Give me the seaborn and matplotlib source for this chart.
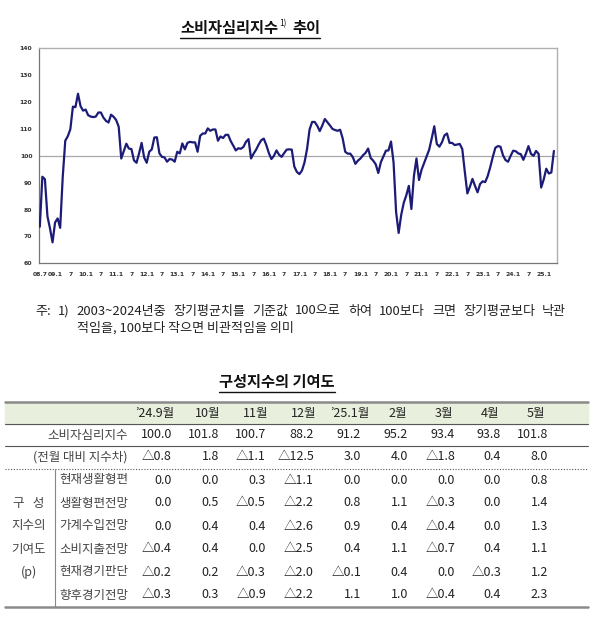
import matplotlib
matplotlib.use("Agg")
import matplotlib.pyplot as plt
import seaborn as sns
import pandas as pd
import numpy as np

sns.set_style("white")
plt.rcParams['font.family'] = ['Noto Sans CJK KR', 'DejaVu Sans']

# 1. 데이터: 소비자심리지수 (2008.7 ~ 2025.5, 월별)
ccsi = [
    73.6, 92.2, 91.3, 77.5, 73.0, 67.8, 75.2, 76.7, 73.2, 92.0,
    105.6, 107.3, 109.9, 118.3, 118.1, 123.1, 118.5, 116.8, 117.2, 115.1,
    114.6, 114.4, 114.6, 116.1, 116.1, 114.2, 113.0, 112.4, 115.3, 114.5,
    113.3, 110.8, 99.0, 101.8, 104.5, 102.7, 102.5, 98.3, 97.4, 100.9,
    104.8, 99.4, 97.4, 101.5, 102.4, 106.8, 106.9, 100.9, 99.6, 99.4,
    97.8, 98.8, 98.6, 97.8, 101.5, 100.9, 104.6, 102.4, 104.8, 105.2,
    105.0, 105.0, 101.5, 107.4, 108.3, 108.3, 110.2, 109.3, 109.8, 109.8,
    105.6, 107.2, 106.6, 107.8, 107.8, 105.5, 103.8, 102.0, 102.8, 102.6,
    103.3, 105.2, 106.2, 99.0, 100.8, 102.3, 104.2, 105.8, 106.4, 104.0,
    101.0, 98.8, 100.0, 102.0, 100.4, 99.6, 101.0, 102.3, 102.4, 102.3,
    96.0, 94.0, 93.2, 94.5, 97.5, 102.5, 109.8, 112.6, 112.6, 111.2,
    109.2, 111.3, 113.7, 112.5, 111.3, 110.0, 109.6, 109.3, 109.7, 106.5,
    101.5, 100.8, 100.8, 99.5, 97.0, 98.2, 99.0, 100.2, 101.1, 102.7,
    99.2, 98.2, 96.8, 93.6, 97.6, 99.8, 101.9, 102.0, 105.3, 97.5,
    79.0, 71.3, 78.0, 82.5, 85.3, 88.8, 80.2, 92.5, 99.0, 91.0,
    94.8, 97.3, 99.8, 102.3, 106.5, 111.0, 104.4, 103.4, 105.0, 107.6,
    108.3, 104.8, 104.8, 104.0, 104.2, 104.4, 102.5, 94.0, 86.0, 88.5,
    91.4, 88.8, 86.4, 89.5, 90.5, 90.2, 92.5, 95.8, 99.6, 103.0,
    103.6, 103.4, 100.2, 98.4, 97.8, 100.0, 101.9, 101.7, 100.9, 100.6,
    98.5, 100.8, 103.6, 100.7, 100.0, 101.8, 100.7, 88.2, 91.2, 95.2,
    93.4, 93.8, 101.8,
]
months = pd.period_range('2008-07', periods=len(ccsi), freq='M')
df = pd.DataFrame({'idx': np.arange(len(ccsi)), 'ccsi': ccsi})

tick_pos = list(range(0, len(ccsi), 6))
tick_labels = []
for p in tick_pos:
    m = months[p]
    if p == 0:
        tick_labels.append(f"{m.year % 100:02d}.{m.month}")
    elif m.month == 1:
        tick_labels.append(f"{m.year % 100:02d}.1")
    else:
        tick_labels.append("7")

# 2. 데이터: 구성지수의 기여도 표
col_labels = ["’24.9월", "10월", "11월", "12월", "’25.1월", "2월", "3월", "4월", "5월"]
ccsi_level = [100.0, 101.8, 100.7, 88.2, 91.2, 95.2, 93.4, 93.8, 101.8]
ccsi_diff = [-0.8, 1.8, -1.1, -12.5, 3.0, 4.0, -1.8, 0.4, 8.0]
comp_names = ["현재생활형편", "생활형편전망", "가계수입전망", "소비지출전망", "현재경기판단", "향후경기전망"]
comp_1 = [0.0, 0.0, 0.3, -1.1, 0.0, 0.0, 0.0, 0.0, 0.8]
comp_2 = [0.0, 0.5, -0.5, -2.2, 0.8, 1.1, -0.3, 0.0, 1.4]
comp_3 = [0.0, 0.4, 0.4, -2.6, 0.9, 0.4, -0.4, 0.0, 1.3]
comp_4 = [-0.4, 0.4, 0.0, -2.5, 0.4, 1.1, -0.7, 0.4, 1.1]
comp_5 = [-0.2, 0.2, -0.3, -2.0, -0.1, 0.4, 0.0, -0.3, 1.2]
comp_6 = [-0.3, 0.3, -0.9, -2.2, 1.1, 1.0, -0.4, 0.4, 2.3]
comp_rows = [comp_1, comp_2, comp_3, comp_4, comp_5, comp_6]

note_line1 = "주: 1) 2003~2024년중 장기평균치를 기준값 100으로 하여 100보다 크면 장기평균보다 낙관"
note_line2 = "적임을, 100보다 작으면 비관적임을 의미"


def fmt(v):
    return f"△{abs(v):.1f}" if v < 0 else f"{v:.1f}"


W, H = 600, 617
fig = plt.figure(figsize=(W / 100, H / 100), dpi=100)

# 3. 선 그래프
L, R, T, B = 39.3, 556.7, 48.3, 263.3
ax = fig.add_axes([L / W, 1 - B / H, (R - L) / W, (B - T) / H])
ax.axhline(100, color='#a8a8a8', lw=0.9, zorder=1)
sns.lineplot(data=df, x='idx', y='ccsi', color='#1c1c78', lw=1.6, ax=ax, zorder=3)
ax.set_xlim(-0.2, 203.1)
ax.set_ylim(60, 140)
ax.set_yticks(range(60, 141, 10))
ax.set_xticks(tick_pos)
ax.set_xticklabels(tick_labels)
ax.set_xlabel('')
ax.set_ylabel('')
ax.tick_params(axis='both', labelsize=4.4, colors='#333333', length=2.5, width=0.6,
               direction='out', pad=2.5)
ax.tick_params(axis='x', pad=3.5)
for lab in ax.get_xticklabels() + ax.get_yticklabels():
    lab.set_fontweight('bold')
    lab.set_family('DejaVu Sans')
for s in ['top', 'right']:
    ax.spines[s].set_color('#b0b0b0')
    ax.spines[s].set_linewidth(1.0)
for s in ['left', 'bottom']:
    ax.spines[s].set_color('#777777')
    ax.spines[s].set_linewidth(0.9)

# 4. 텍스트와 표 (픽셀 좌표 오버레이)
ov = fig.add_axes([0, 0, 1, 1], zorder=-1)
ov.set_xlim(0, W)
ov.set_ylim(H, 0)
ov.axis('off')
renderer = fig.canvas.get_renderer()


def width_of(t):
    return t.get_window_extent(renderer=renderer).width


# 제목 (위첨자 포함)
t1 = ov.text(180, 28, "소비자심리지수", fontsize=11, fontweight='bold', ha='left', va='center', color='#111111')
x_sup = 180 + width_of(t1) + 1
t2 = ov.text(x_sup, 24, "1)", fontsize=6, ha='left', va='center', color='#111111')
x_end = x_sup + width_of(t2) + 6
t3 = ov.text(x_end, 28, "추이", fontsize=11, fontweight='bold', ha='left', va='center', color='#111111')
ov.plot([180, x_end + width_of(t3)], [38, 38], color='#111111', lw=1.0)

# 주석 (양쪽 정렬)
nfs = 9.4
words = note_line1.split(' ')
tmp = [ov.text(0, -50, w, fontsize=nfs) for w in words]
ws = [width_of(t) for t in tmp]
for t in tmp:
    t.remove()
gap = (566 - 35 - sum(ws)) / (len(words) - 1)
xx = 35
x_second = 64
for i, (w, wd) in enumerate(zip(words, ws)):
    ov.text(xx, 311, w, fontsize=nfs, ha='left', va='center', color='#222222')
    if i == 2:
        x_second = xx
    xx += wd + gap
ov.text(x_second, 328, note_line2, fontsize=nfs, ha='left', va='center', color='#222222')

# 표 제목
tt = ov.text(219, 382, "구성지수의 기여도", fontsize=11, fontweight='bold', ha='left', va='center', color='#111111')
ov.plot([219, 219 + width_of(tt)], [392, 392], color='#111111', lw=1.0)

# 표
x0, x1 = 5, 588
ov.fill_between([x0, x1], 402, 424, color='#e8efdc', zorder=0)
ov.plot([x0, x1], [402, 402], color='#8a8a8a', lw=1.8)
ov.plot([x0, x1], [424, 424], color='#555555', lw=0.8)
ov.plot([x0, x1], [446, 446], color='#555555', lw=0.8)
ov.plot([x0, x1], [469, 469], color='#555555', lw=0.8, ls=(0, (1, 1.5)))
ov.plot([x0, x1], [607, 607], color='#8a8a8a', lw=1.8)
ov.plot([55, 55], [469, 607], color='#888888', lw=0.8)

col_right = [172, 219, 266, 314, 361, 408, 455, 501, 548]
col_center = [155, 208, 256, 304, 350, 398, 444, 490, 536]
tfs = 9.0
txt = '#222222'
lab_c = '#444444'
for cx, lab in zip(col_center, col_labels):
    ov.text(cx, 413, lab, fontsize=tfs, ha='center', va='center', color=txt)

ov.text(88, 435, "소비자심리지수", fontsize=tfs, ha='center', va='center', color=lab_c)
ov.text(80, 457, "(전월 대비 지수차)", fontsize=tfs, ha='center', va='center', color=lab_c)
for cx, v in zip(col_right, ccsi_level):
    ov.text(cx, 435, f"{v:.1f}", fontsize=tfs, ha='right', va='center', color=txt)
for cx, v in zip(col_right, ccsi_diff):
    ov.text(cx, 457, fmt(v), fontsize=tfs, ha='right', va='center', color=txt)

comp_y = [480, 503, 526, 549, 572, 595]
for y, name, vals in zip(comp_y, comp_names, comp_rows):
    ov.text(59, y, name, fontsize=tfs, ha='left', va='center', color=lab_c)
    for cx, v in zip(col_right, vals):
        ov.text(cx, y, fmt(v), fontsize=tfs, ha='right', va='center', color=txt)

for y, g in zip(comp_y[1:5], ["구   성", "지수의", "기여도", "(p)"]):
    ov.text(29, y, g, fontsize=tfs, ha='center', va='center', color=lab_c)

plt.savefig('out.png', dpi=100)
